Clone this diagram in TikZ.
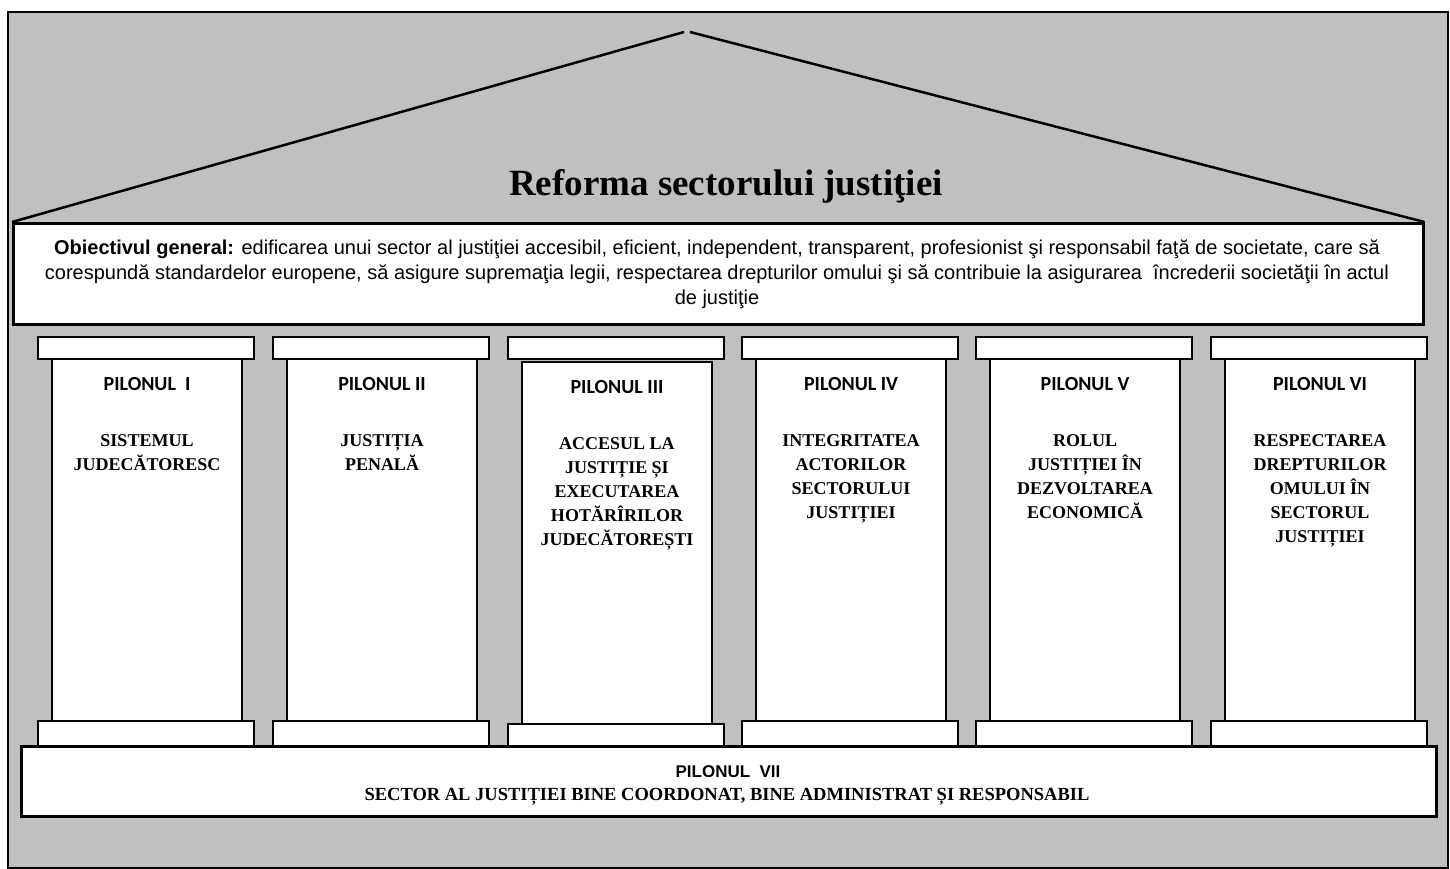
\documentclass[tikz,border=0pt]{standalone}
\usepackage{fontspec}
\setmainfont{Liberation Serif}
\newfontfamily\arialf{Liberation Sans}
\newfontfamily\calib{Carlito}
\definecolor{silver}{HTML}{C0C0C0}
\tikzset{
  whitebox/.style={draw, fill=white, line width=2pt, inner sep=0pt, anchor=north west},
  capbox/.style={whitebox, minimum width=216pt, minimum height=22pt},
  shaftbox/.style={whitebox, minimum width=190pt, minimum height=362pt},
  pillabel/.style={font=\calib\bfseries\fontsize{20}{22}\selectfont, inner sep=0pt},
  piltitle/.style={font=\bfseries\fontsize{18}{24}\selectfont, align=center, anchor=north, inner sep=0pt},
  roof/.style={line width=2.5pt}
}
\newcommand{\fl}{\rule{0pt}{16pt}}
\begin{document}
\begin{tikzpicture}[x=1pt,y=-1pt]
\useasboundingbox (0,0) rectangle (1450,868);
\fill[white] (0,0) rectangle (1450,868);
\node[draw, fill=silver, line width=1.5pt, minimum width=1440pt, minimum height=856pt, anchor=north west, inner sep=0pt] (frame) at (7,11) {};
% objective box
\node[whitebox, line width=2.5pt, minimum width=1410pt, minimum height=101pt] (obj) at (12,222) {};
\coordinate (apexL) at (684,32);
\coordinate (apexR) at (690,32);
\draw[roof] (obj.north west) -- (apexL);
\draw[roof] (apexR) -- (obj.north east);
\node[font=\bfseries\fontsize{37}{40}\selectfont, inner sep=0pt] (title) at (726,186) {Reforma sectorului justiţiei};
\node[font=\arialf\fontsize{20}{25}\selectfont, align=center, inner sep=0pt, anchor=north] (objtxt) at (717,238)
 {\fl\textbf{Obiectivul general:} edificarea unui sector al justiţiei accesibil, eficient, independent, transparent, profesionist şi responsabil faţă de societate, care să\\
 corespundă standardelor europene, să asigure supremaţia legii, respectarea drepturilor omului şi să contribuie la asigurarea\ \ încrederii societăţii în actul\\
 de justiţie};
% pillars
\foreach \i/\x/\dy/\lab/\tit in {
  1/37/0/{PILONUL\ \ I}/{\fl SISTEMUL\\JUDECĂTORESC},
  2/272/0/{PILONUL II}/{\fl JUSTIȚIA\\PENALĂ},
  3/507/3/{PILONUL III}/{\fl ACCESUL LA\\JUSTIȚIE ȘI\\EXECUTAREA\\HOTĂRÎRILOR\\JUDECĂTOREȘTI},
  4/741/0/{PILONUL IV}/{\fl INTEGRITATEA\\ACTORILOR\\SECTORULUI\\JUSTIȚIEI},
  5/975/0/{PILONUL V}/{\fl ROLUL\\JUSTIȚIEI ÎN\\DEZVOLTAREA\\ECONOMICĂ},
  6/1210/0/{PILONUL VI}/{\fl RESPECTAREA\\DREPTURILOR\\OMULUI ÎN\\SECTORUL\\JUSTIȚIEI}}{
  \node[shaftbox] (shaft\i) at (\x+14,358+\dy) {};
  \node[capbox] (cap\i) at (\x,336) {};
  \node[capbox, minimum height=25pt] (base\i) at (\x,720+\dy) {};
  \node[pillabel] (lab\i) at ([yshift=-26pt]shaft\i.north) {\lab};
  \node[piltitle] (tit\i) at ([yshift=-72pt]shaft\i.north) {\tit};
}
% bottom box
\node[whitebox, line width=2.5pt, minimum width=1415pt, minimum height=70pt] (base) at (20,745) {};
\node[font=\arialf\bfseries\fontsize{17}{18}\selectfont, inner sep=0pt, anchor=base] (p7) at (728,777) {PILONUL\ \ VII};
\node[font=\bfseries\fontsize{18.5}{20}\selectfont, inner sep=0pt, anchor=base] (p7t) at (727,800) {SECTOR AL JUSTIȚIEI BINE COORDONAT, BINE ADMINISTRAT ȘI RESPONSABIL};
\end{tikzpicture}
\end{document}
